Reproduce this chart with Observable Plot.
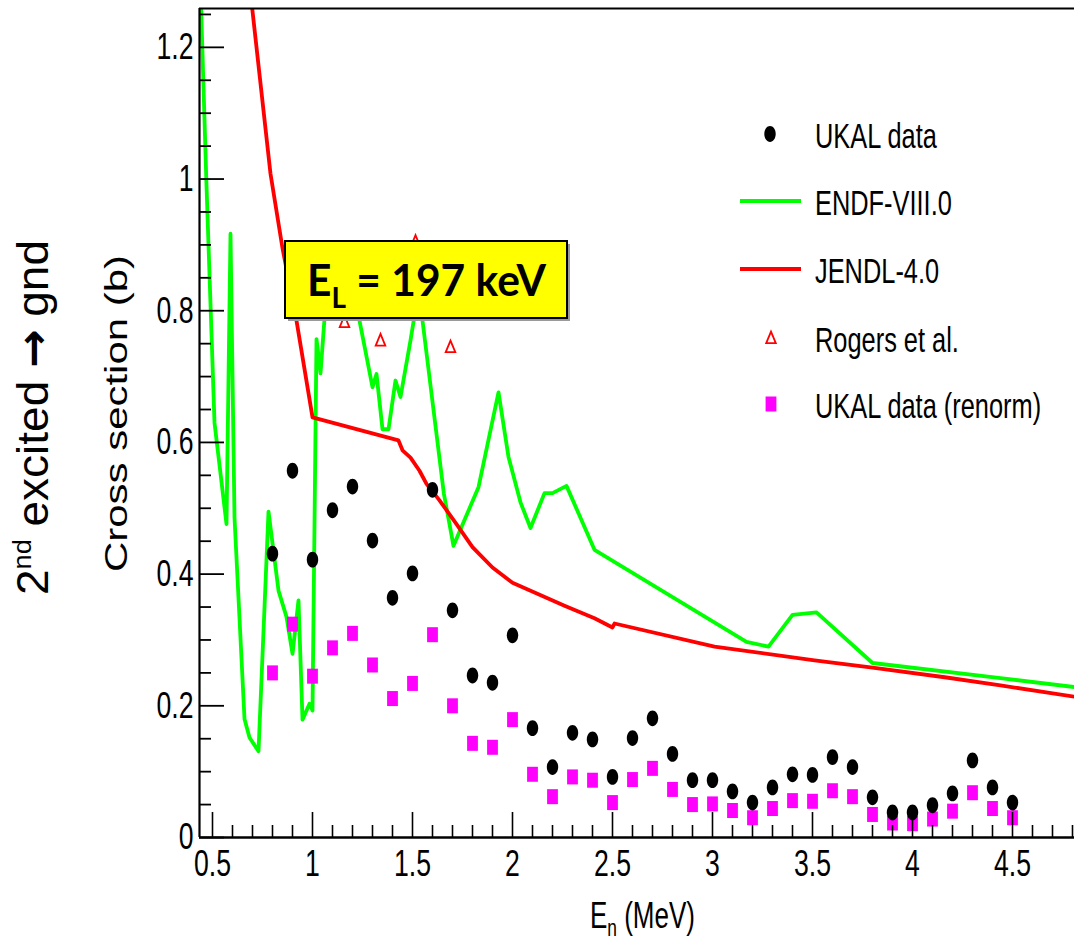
<!DOCTYPE html>
<html>
<head>
<meta charset="utf-8">
<script src="https://cdn.jsdelivr.net/npm/d3@7"></script>
<script src="https://cdn.jsdelivr.net/npm/@observablehq/plot@0.6"></script>
<style>
  html, body { margin: 0; padding: 0; background: #fff; }
  #chart { position: relative; width: 1074px; height: 936px; overflow: hidden; }
</style>
</head>
<body>
<div id="chart"></div>
<script>
// ---------------- data ----------------
const energies = [0.8, 0.9, 1.0, 1.1, 1.2, 1.3, 1.4, 1.5, 1.6, 1.7, 1.8, 1.9, 2.0, 2.1, 2.2, 2.3, 2.4, 2.5, 2.6,
  2.7, 2.8, 2.9, 3.0, 3.1, 3.2, 3.3, 3.4, 3.5, 3.6, 3.7, 3.8, 3.9, 4.0, 4.1, 4.2, 4.3, 4.4, 4.5];
const ukalData = [0.431, 0.557, 0.422, 0.497, 0.533, 0.451, 0.364, 0.401, 0.528, 0.345, 0.246, 0.235, 0.307,
  0.166, 0.107, 0.159, 0.149, 0.092, 0.151, 0.181, 0.127, 0.087, 0.087, 0.070, 0.053, 0.076, 0.096, 0.095,
  0.122, 0.107, 0.061, 0.038, 0.038, 0.049, 0.067, 0.117, 0.076, 0.053];
const ukalRenorm = [0.250, 0.324, 0.245, 0.288, 0.310, 0.262, 0.211, 0.234, 0.308, 0.200, 0.143, 0.137, 0.179,
  0.096, 0.062, 0.092, 0.087, 0.053, 0.088, 0.105, 0.073, 0.050, 0.051, 0.041, 0.030, 0.044, 0.056, 0.055,
  0.071, 0.062, 0.035, 0.022, 0.021, 0.028, 0.040, 0.068, 0.044, 0.030];

const endfE = [0.43, 0.47, 0.51, 0.57, 0.59, 0.61, 0.66, 0.685, 0.73, 0.78, 0.83, 0.87, 0.90, 0.93, 0.95, 0.985,
  1.0, 1.02, 1.04, 1.06, 1.10, 1.19, 1.235, 1.30, 1.32, 1.35, 1.38, 1.415, 1.44, 1.49, 1.525, 1.55, 1.63, 1.657,
  1.705, 1.83, 1.93, 1.98, 2.04, 2.09, 2.16, 2.20, 2.27, 2.41, 3.17, 3.28, 3.40, 3.52, 3.80, 4.44, 4.85];
const endfXS = [1.39, 0.99, 0.63, 0.476, 0.917, 0.486, 0.180, 0.152, 0.131, 0.495, 0.375, 0.335, 0.279, 0.360,
  0.179, 0.203, 0.193, 0.757, 0.705, 0.788, 0.84, 0.83, 0.785, 0.684, 0.704, 0.620, 0.620, 0.694, 0.669, 0.755,
  0.82, 0.785, 0.588, 0.522, 0.443, 0.532, 0.676, 0.578, 0.509, 0.470, 0.523, 0.523, 0.534, 0.437, 0.297, 0.290,
  0.338, 0.342, 0.265, 0.242, 0.227];

const jendlE = [0.68, 0.79, 0.85, 0.92, 1.0, 1.43, 1.45, 1.49, 1.535, 1.57, 1.635, 1.72, 1.80, 1.90, 2.0, 2.26,
  2.41, 2.50, 2.51, 3.01, 3.51, 3.80, 4.17, 4.44, 4.85];
const jendlXS = [1.31, 1.008, 0.895, 0.785, 0.638, 0.603, 0.588, 0.577, 0.557, 0.537, 0.512, 0.476, 0.441, 0.410,
  0.387, 0.352, 0.333, 0.319, 0.325, 0.290, 0.269, 0.258, 0.243, 0.231, 0.212];

const rogersE = [1.16, 1.34, 1.515, 1.69];
const rogersXS = [0.783, 0.755, 0.905, 0.745];

const xMajorTicks = [0.5, 1, 1.5, 2, 2.5, 3, 3.5, 4, 4.5];
const xMinorTicks = [0.5, 0.6, 0.7, 0.8, 0.9, 1.0, 1.1, 1.2, 1.3, 1.4, 1.5, 1.6, 1.7, 1.8, 1.9, 2.0, 2.1, 2.2, 2.3,
  2.4, 2.5, 2.6, 2.7, 2.8, 2.9, 3.0, 3.1, 3.2, 3.3, 3.4, 3.5, 3.6, 3.7, 3.8, 3.9, 4.0, 4.1, 4.2, 4.3, 4.4, 4.5,
  4.6, 4.7, 4.8];
const yMajorTicks = [0, 0.2, 0.4, 0.6, 0.8, 1.0, 1.2];
const yMinorTicks = [0, 0.05, 0.1, 0.15, 0.2, 0.25, 0.3, 0.35, 0.4, 0.45, 0.5, 0.55, 0.6, 0.65, 0.7, 0.75, 0.8,
  0.85, 0.9, 0.95, 1.0, 1.05, 1.1, 1.15, 1.2, 1.25];

const xDomain = [0.435, 4.81];
const yDomain = [0, 1.259];

const legendLabels = ["UKAL data", "ENDF-VIII.0", "JENDL-4.0", "Rogers et al.", "UKAL data (renorm)"];
const yLabel = "Cross section (b)";
const annotation = "197 keV";

// ---------------- layout ----------------
const W = 1074, H = 936;
const mL = 199, mT = 8, mR = 0, mB = 99;
const plotW = W - mL - mR, plotH = H - mT - mB;

// custom symbols
const ellipseSym = { draw(ctx) {
  const rx = 5.7, ry = 7.9, k = 0.5523;
  ctx.moveTo(rx, 0);
  ctx.bezierCurveTo(rx, ry * k, rx * k, ry, 0, ry);
  ctx.bezierCurveTo(-rx * k, ry, -rx, ry * k, -rx, 0);
  ctx.bezierCurveTo(-rx, -ry * k, -rx * k, -ry, 0, -ry);
  ctx.bezierCurveTo(rx * k, -ry, rx, -ry * k, rx, 0);
  ctx.closePath();
}};
const rectSym = { draw(ctx) { ctx.rect(-5.4, -7.5, 10.8, 15); } };
const triSym = { draw(ctx) { ctx.moveTo(0, -6.4); ctx.lineTo(4.8, 5.2); ctx.lineTo(-4.8, 5.2); ctx.closePath(); } };

const points = energies.map((e, i) => ({ e, v: ukalData[i], r: ukalRenorm[i] }));
const endf = endfE.map((e, i) => ({ e, v: endfXS[i] }));
const jendl = jendlE.map((e, i) => ({ e, v: jendlXS[i] }));
const rogers = rogersE.map((e, i) => ({ e, v: rogersXS[i] }));
const xMinorOnly = xMinorTicks.filter(t => !xMajorTicks.some(m => Math.abs(m - t) < 1e-9));
const yMinorOnly = yMinorTicks.filter(t => !yMajorTicks.some(m => Math.abs(m - t) < 1e-9));

const svg = Plot.plot({
  width: W, height: H,
  marginLeft: mL, marginTop: mT, marginRight: mR, marginBottom: mB,
  x: { domain: xDomain },
  y: { domain: yDomain },
  style: { fontFamily: "'Liberation Sans', Arial, sans-serif", background: "white", color: "black" },
  marks: [
    Plot.line(endf, { x: "e", y: "v", stroke: "#00ff00", strokeWidth: 3.8, clip: true }),
    Plot.line(jendl, { x: "e", y: "v", stroke: "#ff0000", strokeWidth: 3.8, clip: true }),
    Plot.dot(points, { x: "e", y: "r", symbol: rectSym, fill: "#ff00ff", stroke: "none", r: 3 }),
    Plot.dot(points, { x: "e", y: "v", symbol: ellipseSym, fill: "black", stroke: "none", r: 3 }),
    Plot.dot(rogers, { x: "e", y: "v", symbol: triSym, fill: "none", stroke: "#ff0000", strokeWidth: 1.8, r: 3 }),
    // ticks (inward, ROOT style)
    Plot.tickY(yMajorTicks, { y: d => d, insetRight: plotW - 25, stroke: "black", strokeWidth: 1.8 }),
    Plot.tickY(yMinorOnly, { y: d => d, insetRight: plotW - 12, stroke: "black", strokeWidth: 1.8 }),
    Plot.tickX(xMajorTicks, { x: d => d, insetTop: plotH - 25, stroke: "black", strokeWidth: 1.6 }),
    Plot.tickX(xMinorOnly, { x: d => d, insetTop: plotH - 12, stroke: "black", strokeWidth: 1.6 }),
    // frame: left, bottom, top
    Plot.ruleX([xDomain[0]], { stroke: "black", strokeWidth: 2.2 }),
    Plot.ruleY([yDomain[0]], { stroke: "black", strokeWidth: 2.4 }),
    Plot.ruleY([yDomain[1]], { stroke: "black", strokeWidth: 2 }),
    Plot.axisX({ ticks: xMajorTicks, tickFormat: d => String(d), tickSize: 0, tickPadding: 12, fontSize: 37, label: null }),
    Plot.axisY({ ticks: yMajorTicks, tickFormat: d => String(d), tickSize: 0, tickPadding: 6, fontSize: 37, label: null })
  ]
});

document.getElementById("chart").appendChild(svg);

const s = d3.select(svg);

function condense(sel, factor) {
  sel.each(function () {
    const L = this.getComputedTextLength();
    this.setAttribute("textLength", (L * factor).toFixed(1));
    this.setAttribute("lengthAdjust", "spacingAndGlyphs");
  });
}
condense(s.selectAll('g[aria-label="x-axis tick label"] text, g[aria-label="y-axis tick label"] text'), 0.72);

// ---------------- legend ----------------
const leg = s.append("g").attr("font-family", "'Liberation Sans', Arial, sans-serif").attr("text-anchor", "start");
const rowY = [134, 201, 269, 338, 404];
leg.append("path").attr("d", d3.symbol(ellipseSym)()).attr("transform", `translate(770,${rowY[0]})`).attr("fill", "black");
leg.append("line").attr("x1", 740).attr("x2", 801).attr("y1", rowY[1]).attr("y2", rowY[1])
  .attr("stroke", "#00ff00").attr("stroke-width", 3.8);
leg.append("line").attr("x1", 740).attr("x2", 801).attr("y1", rowY[2]).attr("y2", rowY[2])
  .attr("stroke", "#ff0000").attr("stroke-width", 3.8);
leg.append("path").attr("d", d3.symbol(triSym)()).attr("transform", `translate(771,${rowY[3]})`)
  .attr("fill", "none").attr("stroke", "#ff0000").attr("stroke-width", 1.8);
leg.append("path").attr("d", d3.symbol(rectSym)()).attr("transform", `translate(771,${rowY[4]})`).attr("fill", "#ff00ff");
const legTexts = leg.selectAll("text.lt").data(legendLabels).join("text")
  .attr("class", "lt").attr("x", 815).attr("y", (d, i) => rowY[i] + 14)
  .attr("text-anchor", "start")
  .attr("font-size", 35).attr("fill", "black").text(d => d);
condense(legTexts, 0.725);

// ---------------- annotation box ----------------
const ann = s.append("g").attr("text-anchor", "start");
ann.append("rect").attr("x", 288).attr("y", 244).attr("width", 282).attr("height", 77).attr("fill", "#9a9a9a");
ann.append("rect").attr("x", 285).attr("y", 241).attr("width", 282).attr("height", 77)
  .attr("fill", "#ffff00").attr("stroke", "black").attr("stroke-width", 2);
const at = ann.append("text").attr("x", 307).attr("y", 296).attr("text-anchor", "start")
  .attr("font-family", "Lato, 'Open Sans', sans-serif").attr("font-weight", "bold")
  .attr("font-size", 44).attr("fill", "black");
at.append("tspan").text("E");
at.append("tspan").attr("font-size", 29).attr("dy", 12).text("L");
at.append("tspan").attr("dy", -12).text(" = " + annotation);
at.attr("textLength", 239).attr("lengthAdjust", "spacingAndGlyphs");

// ---------------- axis titles ----------------
const xt = s.append("text").attr("x", 590).attr("y", 928).attr("text-anchor", "start")
  .attr("font-size", 36).attr("fill", "black");
xt.append("tspan").text("E");
xt.append("tspan").attr("font-size", 24).attr("dy", 8).text("n");
xt.append("tspan").attr("dy", -8).text(" (MeV)");
xt.attr("textLength", 105).attr("lengthAdjust", "spacingAndGlyphs");

s.append("text").attr("transform", "translate(127,572) rotate(-90)")
  .attr("font-size", 32).attr("fill", "black").attr("text-anchor", "start")
  .attr("textLength", 317).attr("lengthAdjust", "spacingAndGlyphs")
  .text(yLabel);

const lt = s.append("text").attr("transform", "translate(48,595) rotate(-90)").attr("text-anchor", "start")
  .attr("font-size", 44).attr("fill", "black");
lt.append("tspan").text("2");
lt.append("tspan").attr("font-size", 26).attr("dy", -17).text("nd");
lt.append("tspan").attr("dy", 17).text(" excited ");
lt.append("tspan").attr("font-family", "'DejaVu Sans', sans-serif").attr("font-weight", "bold").attr("font-size", 44).text("\u2192");
lt.append("tspan").text(" gnd");
lt.attr("textLength", 355).attr("lengthAdjust", "spacingAndGlyphs");
</script>
</body>
</html>
